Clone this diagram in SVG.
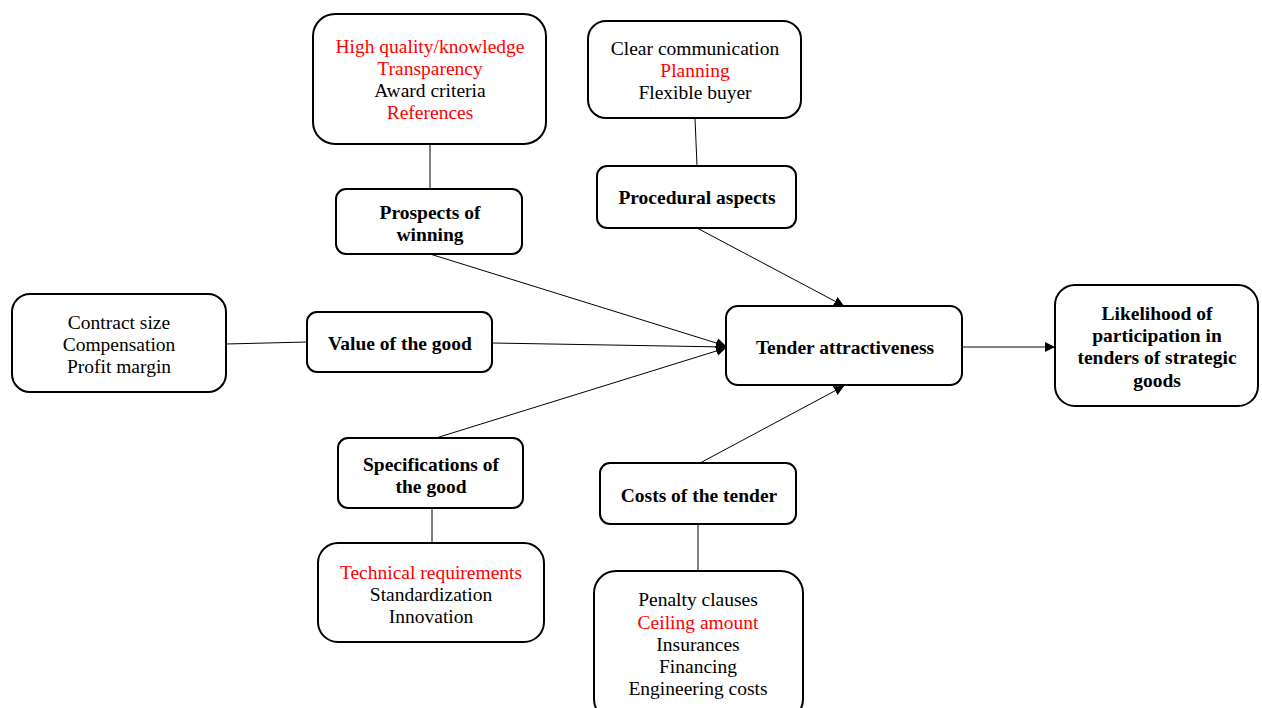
<svg xmlns="http://www.w3.org/2000/svg" width="1262" height="708" viewBox="0 0 1262 708">
<defs>
<style>
.box{fill:#fff;stroke:#000;stroke-width:2}
.t{font-family:"Liberation Serif","Times New Roman",serif;font-size:19.5px;text-anchor:middle;fill:#000}
.b{font-weight:bold}
.r{fill:#ff0000}
.ln{stroke:#000;stroke-width:1;fill:none}
</style>
<marker id="ah" viewBox="0 0 10 10" refX="10" refY="5" markerWidth="10" markerHeight="10" markerUnits="userSpaceOnUse" orient="auto">
<path d="M0,0 L10,5 L0,10 z" fill="#000"/>
</marker>
</defs>
<rect width="1262" height="708" fill="#fff"/>
<g id="connectors">
<line class="ln" x1="430" y1="144" x2="430" y2="189"/>
<line class="ln" x1="695" y1="118" x2="697" y2="166"/>
<line class="ln" x1="226" y1="344" x2="307" y2="342"/>
<line class="ln" x1="432" y1="508" x2="432" y2="543"/>
<line class="ln" x1="698" y1="524" x2="698" y2="571"/>
<line class="ln" x1="430" y1="254" x2="726" y2="346" marker-end="url(#ah)"/>
<line class="ln" x1="492" y1="343" x2="726" y2="347" marker-end="url(#ah)"/>
<line class="ln" x1="436" y1="438" x2="726" y2="348" marker-end="url(#ah)"/>
<line class="ln" x1="697" y1="228" x2="844" y2="306" marker-end="url(#ah)"/>
<line class="ln" x1="700" y1="463" x2="844" y2="386" marker-end="url(#ah)"/>
<line class="ln" x1="962" y1="347" x2="1055" y2="347" marker-end="url(#ah)"/>
</g>
<g id="highq">
<rect class="box" x="313" y="14" width="233" height="130" rx="22"/>
<text class="t r" x="430" y="53">High quality/knowledge</text>
<text class="t r" x="430" y="75">Transparency</text>
<text class="t" x="430" y="97">Award criteria</text>
<text class="t r" x="430" y="119">References</text>
</g>
<g id="prospects">
<rect class="box" x="336" y="189" width="186" height="65" rx="10"/>
<text class="t b" x="430" y="219">Prospects of</text>
<text class="t b" x="430" y="241">winning</text>
</g>
<g id="clearcomm">
<rect class="box" x="588" y="21" width="213" height="97" rx="18"/>
<text class="t" x="695" y="55">Clear communication</text>
<text class="t r" x="695" y="77">Planning</text>
<text class="t" x="695" y="99">Flexible buyer</text>
</g>
<g id="procedural">
<rect class="box" x="597" y="166" width="199" height="62" rx="10"/>
<text class="t b" x="697" y="204">Procedural aspects</text>
</g>
<g id="contract">
<rect class="box" x="12" y="294" width="214" height="98" rx="18"/>
<text class="t" x="119" y="329">Contract size</text>
<text class="t" x="119" y="351">Compensation</text>
<text class="t" x="119" y="373">Profit margin</text>
</g>
<g id="value">
<rect class="box" x="307" y="312" width="185" height="60" rx="10"/>
<text class="t b" x="400" y="350">Value of the good</text>
</g>
<g id="tender">
<rect class="box" x="726" y="306" width="236" height="79" rx="12"/>
<text class="t b" x="845" y="354">Tender attractiveness</text>
</g>
<g id="likelihood">
<rect class="box" x="1055" y="285" width="203" height="121" rx="20"/>
<text class="t b" x="1157" y="320">Likelihood of</text>
<text class="t b" x="1157" y="342">participation in</text>
<text class="t b" x="1157" y="364">tenders of strategic</text>
<text class="t b" x="1157" y="387">goods</text>
</g>
<g id="spec">
<rect class="box" x="338" y="438" width="185" height="70" rx="10"/>
<text class="t b" x="431" y="471">Specifications of</text>
<text class="t b" x="431" y="493">the good</text>
</g>
<g id="technical">
<rect class="box" x="318" y="543" width="226" height="99" rx="20"/>
<text class="t r" x="431" y="579">Technical requirements</text>
<text class="t" x="431" y="601">Standardization</text>
<text class="t" x="431" y="623">Innovation</text>
</g>
<g id="costs">
<rect class="box" x="600" y="463" width="196" height="61" rx="10"/>
<text class="t b" x="699" y="502">Costs of the tender</text>
</g>
<g id="penalty">
<rect class="box" x="594" y="571" width="209" height="150" rx="22"/>
<text class="t" x="698" y="606">Penalty clauses</text>
<text class="t r" x="698" y="629">Ceiling amount</text>
<text class="t" x="698" y="651">Insurances</text>
<text class="t" x="698" y="673">Financing</text>
<text class="t" x="698" y="695">Engineering costs</text>
</g>
</svg>
